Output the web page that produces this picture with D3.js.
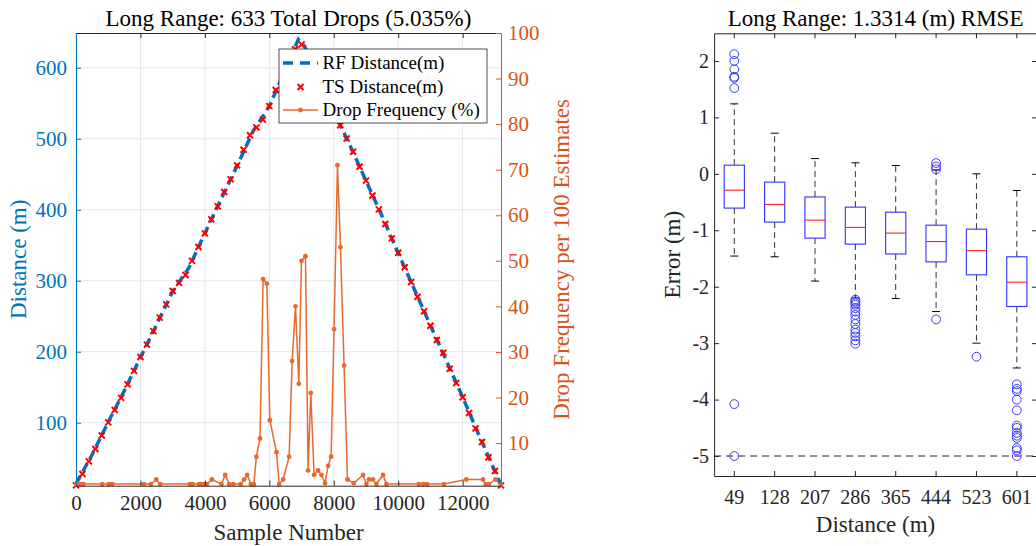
<!DOCTYPE html>
<html>
<head>
<meta charset="utf-8">
<script src="https://cdn.jsdelivr.net/npm/d3@7"></script>
<style>
  body { margin: 0; background: #fff; }
  svg { display: block; font-family: "Liberation Serif", "Times New Roman", serif; }
</style>
</head>
<body>
<svg id="chart" width="1036" height="546"></svg>
<script>
// ---- left panel data ----
// TS distance markers (every ~200 samples)
const tsSample = [0, 200, 400, 600, 800, 1000, 1200, 1400, 1600, 1800, 2000, 2200, 2400, 2600, 2800, 3000,
  3200, 3400, 3600, 3800, 4000, 4200, 4400, 4600, 4800, 5000, 5200, 5400, 5600, 5800, 6000, 6200, 6400,
  6600, 6800, 7000, 7200, 7400, 7600, 7800, 8000, 8200, 8400, 8600, 8800, 9000, 9200, 9400, 9600, 9800,
  10000, 10200, 10400, 10600, 10800, 11000, 11200, 11400, 11600, 11800, 12000, 12200, 12400, 12600,
  12800, 13000, 13190];
const tsDistance = [11.8, 27.7, 45.6, 63, 82, 100.5, 118, 135, 154, 173, 192.5, 210, 229, 248, 266.7, 285.5,
  297, 308, 328, 347.5, 366.8, 386.5, 404.8, 425, 442.8, 462.5, 484.5, 505, 516, 527, 546, 568.6, 588,
  607, 626, 633, 614, 596, 577, 557, 538, 519, 500.5, 481.7, 460.6, 441, 420, 400.6, 380, 359.7,
  339.4, 319, 298.3, 277.5, 257, 236.6, 216.5, 198.6, 176, 156, 135.8, 113.7, 92, 72.8,
  51.3, 32, 11.8];

// RF distance (dashed line)
const rfSample = [0, 500, 1000, 1500, 2000, 2500, 3000, 3500, 4000, 4500, 5000, 5500, 6000, 6500, 6900,
  7100, 7500, 8000, 8500, 9000, 9500, 10000, 10500, 11000, 11500, 12000, 12500, 13000, 13190];
const rfDistance = [14, 55, 101, 145, 192, 238, 285, 318, 367, 415, 462, 511, 546, 598, 640,
  630, 587, 538, 491, 441, 391, 339, 288, 237, 187, 136, 83, 32, 12];

// drop frequency per 100 estimates (right axis)
const dropSample = [0, 80, 160, 230, 816, 1013, 1126, 2108, 2326, 2490, 2614, 3535, 3618, 3814, 3897, 3980,
  4062, 4217, 4517, 4630, 4754, 4878, 5107, 5219, 5312, 5426, 5519, 5597, 5711, 5808, 5922, 6016, 6223,
  6305, 6429, 6615, 6708, 6813, 6915, 6998, 7122, 7203, 7287, 7389, 7513, 7618, 7730, 7823, 7916, 8009,
  8115, 8208, 8320, 8425, 8620, 8909, 9013, 9095, 9219, 9323, 9529, 9633, 10636, 10769, 10893, 11420,
  12114, 12630, 12713, 12816, 13023, 13190];
const dropFreq = [1, 1, 1, 1, 1, 1, 1, 1, 1, 2, 1, 1, 1, 1, 1, 1,
  1, 2, 1, 3, 1, 1, 1, 2, 3, 1, 1, 7, 11, 46, 45, 15, 8,
  1, 2, 7, 28, 40, 23, 50, 51, 4, 21, 3, 4, 3, 1.2, 5, 7, 35,
  71, 53, 27, 2, 1.2, 3, 1, 2, 2, 1, 3, 1, 1, 1, 1, 1,
  2, 2, 1, 1, 2, 0.7];

const sampleTicks = [0, 2000, 4000, 6000, 8000, 10000, 12000];
const distTicks = [100, 200, 300, 400, 500, 600];
const dropTicks = [10, 20, 30, 40, 50, 60, 70, 80, 90, 100];

// ---- right panel data (box plot) ----
const boxLabels = ["49", "128", "207", "286", "365", "444", "523", "601"];
const boxQ3 = [0.154, -0.147, -0.41, -0.59, -0.68, -0.91, -0.98, -1.47];
const boxMedian = [-0.29, -0.543, -0.82, -0.95, -1.05, -1.2, -1.36, -1.92];
const boxQ1 = [-0.607, -0.855, -1.14, -1.245, -1.42, -1.56, -1.79, -2.35];
const whiskerHigh = [1.24, 0.72, 0.27, 0.195, 0.147, 0.07, 0.0, -0.295];
const whiskerLow = [-1.457, -1.47, -1.9, -2.2, -2.21, -2.44, -3.0, -3.44];
const boxOutliers = [
  [2.12, 2.0, 1.85, 1.72, 1.70, 1.52, -4.08, -5.0],
  [],
  [],
  [-2.23, -2.26, -2.29, -2.32, -2.38, -2.44, -2.5, -2.58, -2.66, -2.76, -2.82, -2.88, -2.95, -3.01],
  [],
  [0.19, 0.13, 0.08, -2.58],
  [-3.24],
  [-3.73, -3.81, -3.85, -4.0, -4.19, -4.46, -4.5, -4.59, -4.64, -4.68, -4.86, -4.9, -5.0]
];
const errorTicks = [-5, -4, -3, -2, -1, 0, 1, 2];
const errorLimit = -5;

const BLUE = "#0072BD", ORANGE = "#D95319", AXIS = "#262626";

const svg = d3.select("#chart");

// ================= left panel =================
const L = { left: 76, right: 501, top: 33, bottom: 485.7 };
const x = d3.scaleLinear().domain([0, 13190]).range([L.left, L.right]);
const yDist = d3.scaleLinear().domain([11.3, 649]).range([L.bottom, L.top]);
const yDrop = d3.scaleLinear().domain([0.64, 100]).range([L.bottom, L.top]);

// grid
const grid = svg.append("g").attr("stroke", "#dfe8f1").attr("stroke-width", 1);
grid.selectAll(".gx").data(sampleTicks).enter().append("line")
  .attr("x1", d => x(d)).attr("x2", d => x(d)).attr("y1", L.top).attr("y2", L.bottom);
grid.selectAll(".gy").data(distTicks).enter().append("line")
  .attr("x1", L.left).attr("x2", L.right).attr("y1", d => yDist(d)).attr("y2", d => yDist(d));

// RF distance dashed line
svg.append("path")
  .datum(rfSample.map((s, i) => [s, rfDistance[i]]))
  .attr("fill", "none").attr("stroke", BLUE).attr("stroke-width", 3.5)
  .attr("stroke-dasharray", "9,5")
  .attr("d", d3.line().x(d => x(d[0])).y(d => yDist(d[1])));

// TS distance markers
const xMark = 3;
svg.append("g").selectAll("path")
  .data(tsSample.map((s, i) => [s, tsDistance[i]]))
  .enter().append("path")
  .attr("transform", d => `translate(${x(d[0])},${yDist(d[1])})`)
  .attr("d", `M${-xMark},${-xMark}L${xMark},${xMark}M${-xMark},${xMark}L${xMark},${-xMark}`)
  .attr("stroke", "#ff0000").attr("stroke-width", 2).attr("fill", "none");

// drop frequency line + markers
const dropPts = dropSample.map((s, i) => [s, dropFreq[i]]);
svg.append("path").datum(dropPts)
  .attr("fill", "none").attr("stroke", "#E8692D").attr("stroke-width", 1.5)
  .attr("d", d3.line().x(d => x(d[0])).y(d => yDrop(d[1])));
svg.append("g").selectAll("circle").data(dropPts).enter().append("circle")
  .attr("cx", d => x(d[0])).attr("cy", d => yDrop(d[1])).attr("r", 2.4)
  .attr("fill", "#E8692D");

// axes
function styleAxis(g, color, fs) {
  g.selectAll("path.domain").attr("stroke", color);
  g.selectAll(".tick line").attr("stroke", color);
  g.selectAll(".tick text").attr("fill", color).attr("font-size", fs)
    .attr("font-family", "Liberation Serif, serif");
}
const plain = d => String(d);
const gxB = svg.append("g").attr("transform", `translate(0,${L.bottom})`)
  .call(d3.axisBottom(x).tickValues(sampleTicks).tickSize(-5).tickSizeOuter(0).tickPadding(9.5)
    .tickFormat(plain));
styleAxis(gxB, AXIS, 21);
const gxT = svg.append("g").attr("transform", `translate(0,${L.top})`)
  .call(d3.axisTop(x).tickValues(sampleTicks).tickSize(-5).tickSizeOuter(0).tickFormat(""));
styleAxis(gxT, AXIS, 21);
const gyL = svg.append("g").attr("transform", `translate(${L.left},0)`)
  .call(d3.axisLeft(yDist).tickValues(distTicks).tickSize(-5).tickSizeOuter(0).tickPadding(9)
    .tickFormat(plain));
styleAxis(gyL, BLUE, 21);
const gyR = svg.append("g").attr("transform", `translate(${L.right},0)`)
  .call(d3.axisRight(yDrop).tickValues(dropTicks).tickSize(-5).tickSizeOuter(0).tickPadding(7)
    .tickFormat(plain));
styleAxis(gyR, ORANGE, 21);

// titles and labels
svg.append("text").attr("x", (L.left + L.right) / 2).attr("y", 26)
  .attr("text-anchor", "middle").attr("font-size", 23).attr("fill", "#000")
  .text("Long Range: 633 Total Drops (5.035%)");
svg.append("text").attr("x", (L.left + L.right) / 2).attr("y", 540)
  .attr("text-anchor", "middle").attr("font-size", 23).attr("fill", AXIS)
  .text("Sample Number");
svg.append("text").attr("transform", `translate(26,${(L.top + L.bottom) / 2}) rotate(-90)`)
  .attr("text-anchor", "middle").attr("font-size", 23).attr("fill", BLUE)
  .text("Distance (m)");
svg.append("text").attr("transform", `translate(569,${(L.top + L.bottom) / 2}) rotate(-90)`)
  .attr("text-anchor", "middle").attr("font-size", 23).attr("fill", ORANGE)
  .text("Drop Frequency per 100 Estimates");

// legend
const lg = svg.append("g");
lg.append("rect").attr("x", 279).attr("y", 49).attr("width", 208).attr("height", 74)
  .attr("fill", "#fff").attr("stroke", AXIS).attr("stroke-width", 0.8);
const legRows = [63, 87, 110];
lg.append("line").attr("x1", 283).attr("x2", 318).attr("y1", legRows[0]).attr("y2", legRows[0])
  .attr("stroke", BLUE).attr("stroke-width", 3.5).attr("stroke-dasharray", "10,7");
lg.append("path").attr("transform", `translate(300.5,${legRows[1]})`)
  .attr("d", `M${-xMark},${-xMark}L${xMark},${xMark}M${-xMark},${xMark}L${xMark},${-xMark}`)
  .attr("stroke", "#ff0000").attr("stroke-width", 2);
lg.append("line").attr("x1", 283).attr("x2", 318).attr("y1", legRows[2]).attr("y2", legRows[2])
  .attr("stroke", "#E8692D").attr("stroke-width", 1.5);
lg.append("circle").attr("cx", 300.5).attr("cy", legRows[2]).attr("r", 2.4).attr("fill", "#E8692D");
lg.selectAll("text").data(["RF Distance(m)", "TS Distance(m)", "Drop Frequency (%)"]).enter()
  .append("text").attr("x", 322.5).attr("y", (d, i) => legRows[i]).attr("dy", "0.33em")
  .attr("font-size", 19).attr("fill", "#000").text(d => d);

// ================= right panel =================
const B = { left: 714.1, right: 1037, top: 33.3, bottom: 476 };
const xb = d3.scaleBand().domain(boxLabels).range([B.left, B.right]);
const yb = d3.scaleLinear().domain([-5.354, 2.49]).range([B.bottom, B.top]);
const bw = xb.bandwidth() * 0.5;
const capW = 8;

// limit line
svg.append("line").attr("x1", B.left).attr("x2", B.right)
  .attr("y1", yb(errorLimit)).attr("y2", yb(errorLimit))
  .attr("stroke", "#222").attr("stroke-width", 1).attr("stroke-dasharray", "7,5");

const boxes = svg.append("g").selectAll("g").data(boxLabels).enter().append("g")
  .attr("transform", d => `translate(${xb(d) + xb.bandwidth() / 2},0)`);

// whiskers
boxes.append("line").attr("x1", 0).attr("x2", 0)
  .attr("y1", (d, i) => yb(boxQ3[i])).attr("y2", (d, i) => yb(whiskerHigh[i]))
  .attr("stroke", "#333").attr("stroke-dasharray", "6,4");
boxes.append("line").attr("x1", 0).attr("x2", 0)
  .attr("y1", (d, i) => yb(boxQ1[i])).attr("y2", (d, i) => yb(whiskerLow[i]))
  .attr("stroke", "#333").attr("stroke-dasharray", "6,4");
boxes.append("line").attr("x1", -capW / 2).attr("x2", capW / 2)
  .attr("y1", (d, i) => yb(whiskerHigh[i])).attr("y2", (d, i) => yb(whiskerHigh[i]))
  .attr("stroke", "#000");
boxes.append("line").attr("x1", -capW / 2).attr("x2", capW / 2)
  .attr("y1", (d, i) => yb(whiskerLow[i])).attr("y2", (d, i) => yb(whiskerLow[i]))
  .attr("stroke", "#000");
// box
boxes.append("rect").attr("x", -bw / 2).attr("width", bw)
  .attr("y", (d, i) => yb(boxQ3[i])).attr("height", (d, i) => yb(boxQ1[i]) - yb(boxQ3[i]))
  .attr("fill", "none").attr("stroke", "#3030ff").attr("stroke-width", 1.1);
// median
boxes.append("line").attr("x1", -bw / 2).attr("x2", bw / 2)
  .attr("y1", (d, i) => yb(boxMedian[i])).attr("y2", (d, i) => yb(boxMedian[i]))
  .attr("stroke", "#ff2020").attr("stroke-width", 1.1);
// outliers
boxes.each(function (d, i) {
  d3.select(this).selectAll("circle").data(boxOutliers[i]).enter().append("circle")
    .attr("cx", 0).attr("cy", v => yb(v)).attr("r", 4.4)
    .attr("fill", "none").attr("stroke", "#3a3aff").attr("stroke-width", 1);
});

// axes
const bxB = svg.append("g").attr("transform", `translate(0,${B.bottom})`)
  .call(d3.axisBottom(xb).tickSize(-5).tickSizeOuter(0).tickPadding(13.5));
styleAxis(bxB, AXIS, 20);
const bxT = svg.append("g").attr("transform", `translate(0,${B.top})`)
  .call(d3.axisTop(xb).tickSize(-5).tickSizeOuter(0).tickFormat(""));
styleAxis(bxT, AXIS, 20);
const byL = svg.append("g").attr("transform", `translate(${B.left},0)`)
  .call(d3.axisLeft(yb).tickValues(errorTicks).tickSize(-5).tickSizeOuter(0).tickPadding(5)
    .tickFormat(plain));
styleAxis(byL, AXIS, 20);
const byR = svg.append("g").attr("transform", `translate(${B.right},0)`)
  .call(d3.axisRight(yb).tickValues(errorTicks).tickSize(-5).tickSizeOuter(0).tickFormat(""));
styleAxis(byR, AXIS, 20);

svg.append("text").attr("x", (B.left + B.right) / 2).attr("y", 26)
  .attr("text-anchor", "middle").attr("font-size", 23).attr("fill", "#000")
  .text("Long Range: 1.3314 (m) RMSE");
svg.append("text").attr("x", (B.left + B.right) / 2).attr("y", 531.5)
  .attr("text-anchor", "middle").attr("font-size", 23).attr("fill", AXIS)
  .text("Distance (m)");
svg.append("text").attr("transform", `translate(680,${(B.top + B.bottom) / 2}) rotate(-90)`)
  .attr("text-anchor", "middle").attr("font-size", 23).attr("fill", AXIS)
  .text("Error (m)");
</script>
</body>
</html>
